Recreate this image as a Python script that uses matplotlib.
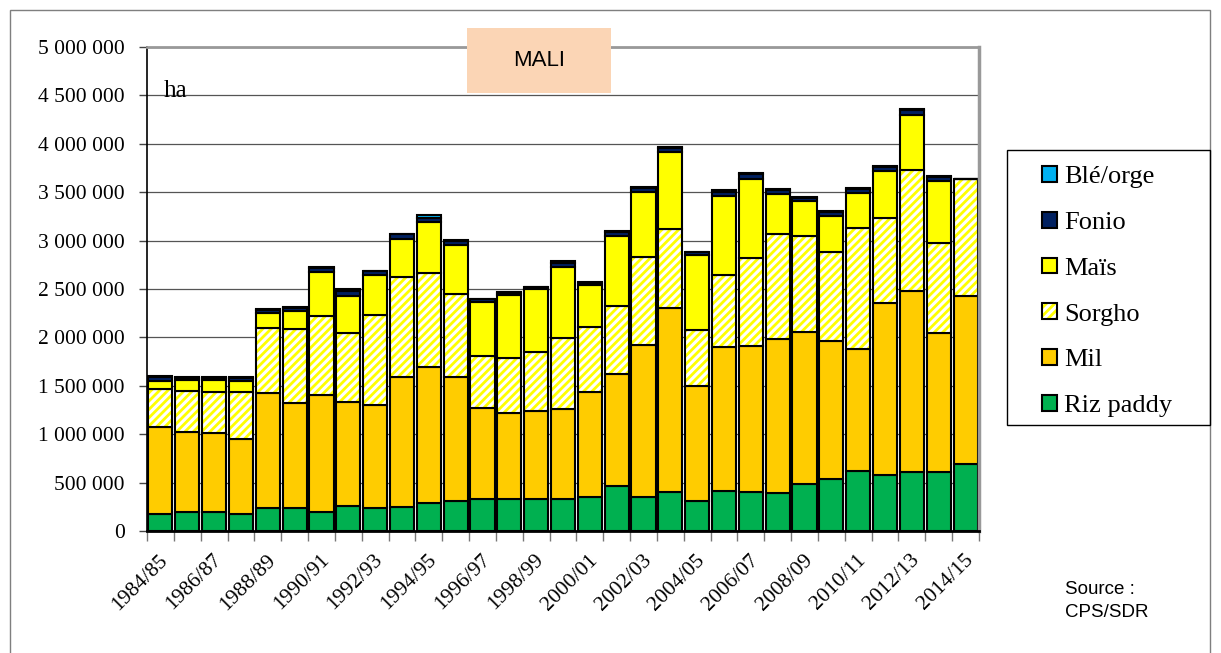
import matplotlib
matplotlib.use('Agg')
import matplotlib.pyplot as plt
from matplotlib.patches import Patch, Rectangle
from matplotlib.ticker import FuncFormatter, FixedLocator
import matplotlib.transforms as mtransforms
import numpy as np

# campaigns
years = ['1984/85', '1985/86', '1986/87', '1987/88', '1988/89', '1989/90', '1990/91',
         '1991/92', '1992/93', '1993/94', '1994/95', '1995/96', '1996/97', '1997/98',
         '1998/99', '1999/00', '2000/01', '2001/02', '2002/03', '2003/04', '2004/05',
         '2005/06', '2006/07', '2007/08', '2008/09', '2009/10', '2010/11', '2011/12',
         '2012/13', '2013/14', '2014/15']

# areas in thousand ha
riz = [173, 193, 193, 173, 234, 234, 200, 261, 234, 251, 286, 313, 327, 327, 327, 327,
       354, 465, 354, 406, 313, 413, 406, 396, 486, 534, 623, 579, 606, 606, 689]
mil = [905, 833, 822, 777, 1196, 1086, 1210, 1075, 1066, 1343, 1404, 1281, 941, 889, 916, 933,
       1085, 1155, 1566, 1894, 1187, 1485, 1504, 1584, 1574, 1432, 1254, 1779, 1870, 1436, 1742]
sorgho = [386, 424, 418, 490, 670, 770, 810, 714, 930, 1026, 980, 851, 540, 568, 609, 730,
          671, 700, 910, 820, 580, 747, 910, 1085, 990, 919, 1256, 872, 1253, 936, 1202]
mais = [86, 110, 127, 110, 150, 180, 460, 380, 410, 400, 520, 510, 561, 654, 645, 740,
        430, 730, 670, 800, 770, 815, 820, 415, 360, 372, 356, 492, 571, 641, 0]
fonio = [40, 25, 25, 35, 35, 35, 40, 50, 45, 45, 45, 45, 28, 25, 25, 40,
         27, 40, 40, 40, 30, 40, 45, 40, 35, 40, 40, 42, 45, 38, 0]
ble = [15, 5, 5, 5, 5, 5, 10, 20, 5, 5, 25, 10, 3, 3, 2, 20,
       3, 10, 10, 10, 5, 20, 15, 16, 8, 9, 11, 10, 15, 10, 0]

c_riz = '#00B050'
c_mil = '#FFCC00'
c_sorgho = '#FFFF00'
c_mais = '#FFFF00'
c_fonio = '#002060'
c_ble = '#00B0F0'

plt.rcParams['hatch.linewidth'] = 2.0
serif = 'Liberation Serif'

fig = plt.figure(figsize=(12.21, 6.53), dpi=100)
ax = fig.add_axes([147 / 1221, 1 - 531 / 653, 832 / 1221, 484 / 653])

x = np.arange(len(years))
w = 0.9
lw = 1.5
k = 1000

bottom = np.zeros(len(years))
riz_v = np.array(riz) * k
ax.bar(x, riz_v, w, bottom=bottom, color=c_riz, edgecolor='black', linewidth=lw)
bottom += riz_v
mil_v = np.array(mil) * k
ax.bar(x, mil_v, w, bottom=bottom, color=c_mil, edgecolor='black', linewidth=lw)
bottom += mil_v
sorgho_v = np.array(sorgho) * k
ax.bar(x, sorgho_v, w, bottom=bottom, color='white', edgecolor=c_sorgho, hatch='////', linewidth=0)
ax.bar(x, sorgho_v, w, bottom=bottom, fill=False, edgecolor='black', linewidth=lw)
bottom += sorgho_v
mais_v = np.array(mais) * k
ax.bar(x, mais_v, w, bottom=bottom, color=c_mais, edgecolor='black', linewidth=lw)
bottom += mais_v
fonio_v = np.array(fonio) * k
ax.bar(x, fonio_v, w, bottom=bottom, color=c_fonio, edgecolor='black', linewidth=lw)
bottom += fonio_v
ble_v = np.array(ble) * k
ax.bar(x, ble_v, w, bottom=bottom, color=c_ble, edgecolor='black', linewidth=lw)

# axes styling
ax.set_xlim(-0.5, len(years) - 0.5)
ax.set_ylim(0, 5000000)
ax.set_yticks(np.arange(0, 5000001, 500000))
ax.yaxis.set_major_formatter(FuncFormatter(lambda v, p: f"{int(v):,}".replace(',', ' ')))
ax.yaxis.grid(True, color='#555555', linewidth=0.9)
ax.set_axisbelow(True)
ax.tick_params(axis='y', length=6, width=1, color='#444444', pad=10, labelsize=15.5)
for lab in ax.get_yticklabels():
    lab.set_fontfamily(serif)

ax.set_xticks(x[::2])
ax.set_xticklabels(years[::2], rotation=45, ha='right', va='center',
                   rotation_mode='anchor', fontsize=15.5, fontfamily=serif)
ax.tick_params(axis='x', which='major', length=0, pad=19)
ax.xaxis.set_minor_locator(FixedLocator(np.arange(-0.5, len(years), 1)))
ax.tick_params(axis='x', which='minor', length=7, width=1, color='#777777')
offset = mtransforms.ScaledTranslation(5 / 100, 0, fig.dpi_scale_trans)
for lab in ax.get_xticklabels():
    lab.set_transform(lab.get_transform() + offset)

ax.spines['left'].set_color('black')
ax.spines['left'].set_linewidth(1.2)
ax.spines['bottom'].set_color('black')
ax.spines['bottom'].set_linewidth(2)
ax.spines['top'].set_color('#999999')
ax.spines['top'].set_linewidth(2)
ax.spines['right'].set_color('#999999')
ax.spines['right'].set_linewidth(2.5)

ax.text((164 - 147) / 832, (531 - 97) / 484, 'ha', transform=ax.transAxes,
        fontsize=18, fontfamily=serif, va='baseline', ha='left')

# title box
fig.patches.append(Rectangle((467 / 1221, 1 - 93 / 653), 144 / 1221, 65 / 653,
                             transform=fig.transFigure, facecolor='#FBD5B5',
                             edgecolor='none', zorder=5))
fig.text(539 / 1221, 1 - 61 / 653, 'MALI', fontsize=16, fontfamily='Liberation Sans',
         ha='center', va='center', zorder=6)

# outer frame
fig.patches.append(Rectangle((10 / 1221, -0.05), 1200 / 1221, 1.05 - 10 / 653,
                             transform=fig.transFigure, fill=False,
                             edgecolor='#7f7f7f', linewidth=1, zorder=0))

# legend
handles = [
    Patch(facecolor=c_ble, edgecolor='black', linewidth=1.5),
    Patch(facecolor=c_fonio, edgecolor='black', linewidth=1.5),
    Patch(facecolor=c_mais, edgecolor='black', linewidth=1.5),
    (Patch(facecolor='white', edgecolor=c_sorgho, hatch='////', linewidth=0),
     Patch(fill=False, edgecolor='black', linewidth=1.5)),
    Patch(facecolor=c_mil, edgecolor='black', linewidth=1.5),
    Patch(facecolor=c_riz, edgecolor='black', linewidth=1.5),
]
labels = ['Blé/orge', 'Fonio', 'Maïs', 'Sorgho', 'Mil', 'Riz paddy']
fig.legend(handles, labels, loc='upper left', bbox_to_anchor=(1042 / 1221, 1 - 166 / 653),
           frameon=False, prop={'family': serif, 'size': 19}, handlelength=0.55,
           handleheight=0.55, handletextpad=0.28, labelspacing=0.89, borderpad=0,
           borderaxespad=0)
fig.patches.append(Rectangle((1007 / 1221, 1 - 425 / 653), 203 / 1221, 275 / 653,
                             transform=fig.transFigure, fill=False,
                             edgecolor='black', linewidth=1, zorder=1))

fig.text(1065 / 1221, 1 - 601 / 653, 'Source :\nCPS/SDR', fontsize=13.5,
         fontfamily='Liberation Sans', ha='left', va='center', linespacing=1.4)

fig.savefig('out.png', dpi=100)
